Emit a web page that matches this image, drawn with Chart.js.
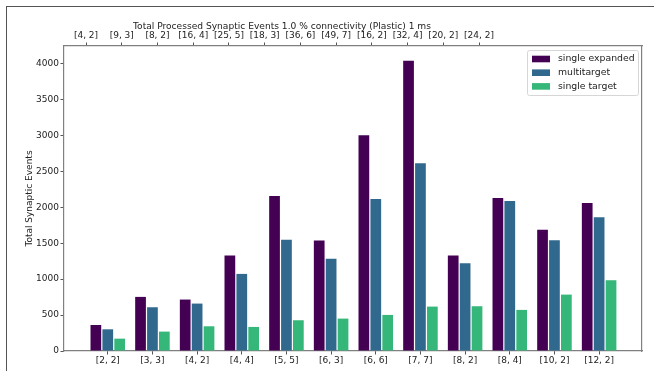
<!DOCTYPE html>
<html>
<head>
<meta charset="utf-8">
<script src="https://cdn.jsdelivr.net/npm/chart.js@4/dist/chart.umd.min.js"></script>
<style>
  html, body { margin: 0; padding: 0; background: #fff; overflow: hidden; }
  #wrap { position: relative; width: 654px; height: 371px; }
  #frame { position: absolute; left: 6px; top: 6px; width: 720px; height: 420px;
           border: 1.5px solid #555; box-sizing: border-box; pointer-events: none; }
  canvas { position: absolute; left: 0; top: 0; }
</style>
</head>
<body>
<div id="wrap">
  <canvas id="c" width="654" height="371"></canvas>
  <div id="frame"></div>
</div>
<script>
// Neuron configurations (bottom axis) and their paired counts (top axis)
const bottomLabels = ['[2, 2]', '[3, 3]', '[4, 2]', '[4, 4]', '[5, 5]', '[6, 3]',
                      '[6, 6]', '[7, 7]', '[8, 2]', '[8, 4]', '[10, 2]', '[12, 2]'];
const topLabels = ['[4, 2]', '[9, 3]', '[8, 2]', '[16, 4]', '[25, 5]', '[18, 3]',
                   '[36, 6]', '[49, 7]', '[16, 2]', '[32, 4]', '[20, 2]', '[24, 2]'];
const yTicks = [0, 500, 1000, 1500, 2000, 2500, 3000, 3500, 4000];

// Total processed synaptic events per strategy
const singleExpanded = [362, 753, 716, 1329, 2156, 1538, 3002, 4038, 1329, 2128, 1687, 2059];
const multitarget    = [302, 609, 660, 1073, 1547, 1283, 2114, 2612, 1222, 2086, 1543, 1863];
const singleTarget   = [172, 270, 344, 335, 428, 451, 502, 618, 623, 572, 785, 985];

const seriesNames = ['single expanded', 'multitarget', 'single target'];
const seriesColors = ['#440154', '#31688e', '#35b779'];

const FONT = 'DejaVu Sans';
const TICK_SIZE = 9;
const toPoints = arr => arr.map((v, i) => ({ x: i, y: v }));

const titlePlugin = {
  id: 'figTitle',
  afterDraw(chart) {
    const ctx = chart.ctx;
    ctx.save();
    ctx.font = '9.1px "' + FONT + '"';
    ctx.fillStyle = '#222';
    ctx.textAlign = 'center';
    ctx.textBaseline = 'middle';
    ctx.fillText('Total Processed Synaptic Events 1.0 % connectivity (Plastic) 1 ms', 282, 27);
    ctx.restore();
  }
};

const legendPlugin = {
  id: 'boxLegend',
  afterDraw(chart) {
    const ctx = chart.ctx;
    const area = chart.chartArea;
    const w = 111, h = 45;
    const x = area.right - 4 - w, y = area.top + 4;
    ctx.save();
    ctx.fillStyle = 'rgba(255,255,255,0.85)';
    ctx.strokeStyle = '#d6d6d6';
    ctx.lineWidth = 1;
    ctx.beginPath();
    ctx.roundRect(x + 0.5, y + 0.5, w, h, 2);
    ctx.fill();
    ctx.stroke();
    ctx.font = '9.3px "' + FONT + '"';
    ctx.textBaseline = 'middle';
    ctx.textAlign = 'left';
    chart.data.datasets.forEach((ds, i) => {
      const cy = y + 9 + i * 13.7;
      ctx.fillStyle = ds.backgroundColor;
      ctx.fillRect(x + 5, cy - 3.3, 18, 6.6);
      ctx.fillStyle = '#222';
      ctx.fillText(ds.label, x + 31, cy);
    });
    ctx.restore();
  }
};

const indexTicks = n => scale => {
  scale.ticks = Array.from({ length: n }, (_, i) => ({ value: i }));
};

const tickGrid = { drawOnChartArea: false, drawTicks: true, tickLength: 3.5, color: '#555', offset: false };
const spine = { display: true, color: '#808080', width: 1.2 };
const tickFont = { family: FONT, size: TICK_SIZE };

new Chart(document.getElementById('c'), {
  type: 'bar',
  data: {
    datasets: [singleExpanded, multitarget, singleTarget].map((arr, i) => ({
      label: seriesNames[i],
      data: toPoints(arr),
      backgroundColor: seriesColors[i],
      borderWidth: 0,
      xAxisID: 'x',
      yAxisID: 'y',
      categoryPercentage: 0.8,
      barPercentage: 0.9
    }))
  },
  options: {
    responsive: false,
    animation: false,
    layout: { padding: { left: 0, right: 12, top: 0, bottom: 0 } },
    plugins: { legend: { display: false }, title: { display: false }, tooltip: { enabled: false } },
    scales: {
      x: {
        type: 'linear',
        position: 'bottom',
        min: -0.98,
        max: 11.96,
        offset: false,
        afterBuildTicks: indexTicks(bottomLabels.length),
        afterFit: s => { s.height = 20; },
        ticks: {
          autoSkip: false, maxRotation: 0, padding: 1,
          color: '#222', font: tickFont,
          callback: v => bottomLabels[v]
        },
        grid: tickGrid,
        border: spine
      },
      x2: {
        type: 'linear',
        position: 'top',
        min: -0.616,
        max: 15.56,
        offset: false,
        afterBuildTicks: indexTicks(topLabels.length),
        afterFit: s => { s.height = 46; },
        ticks: {
          autoSkip: false, maxRotation: 0, padding: 1,
          color: '#222', font: tickFont,
          callback: v => topLabels[v]
        },
        grid: tickGrid,
        border: spine
      },
      y: {
        type: 'linear',
        position: 'left',
        min: 0,
        max: 4245,
        afterBuildTicks: s => { s.ticks = yTicks.map(v => ({ value: v })); },
        afterFit: s => { s.width = 64; },
        ticks: {
          autoSkip: false, padding: 1.5,
          color: '#222', font: tickFont,
          callback: v => String(v)
        },
        title: {
          display: true, text: 'Total Synaptic Events',
          color: '#222', font: tickFont,
          padding: { top: 24, bottom: 0 }
        },
        grid: tickGrid,
        border: spine
      },
      yR: {
        type: 'linear',
        position: 'right',
        min: 0,
        max: 4245,
        afterFit: s => { s.width = 0; },
        ticks: { display: false },
        grid: { display: false, drawTicks: false },
        border: spine
      }
    }
  },
  plugins: [titlePlugin, legendPlugin]
});
</script>
</body>
</html>
